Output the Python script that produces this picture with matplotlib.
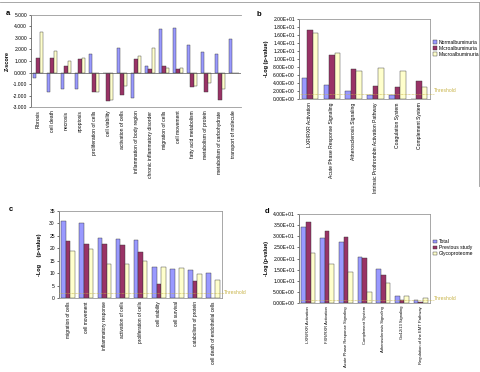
import matplotlib.pyplot as plt
import numpy as np

plt.rcParams['font.family'] = ['Liberation Sans', 'DejaVu Sans']

BLUE = '#9999ff'
RED = '#993366'
YEL = '#ffffcc'
THR = '#c8b448'

# panel a: z-scores
a_cats = ['Fibrosis', 'cell death', 'necrosis', 'apoptosis', 'proliferation of cells',
          'cell viability', 'activation of cells', 'inflammation of body region',
          'chronic inflammatory disorder', 'migration of cells', 'cell movement',
          'fatty acid metabolism', 'metabolism of protein', 'metabolism of carbohydrate',
          'transport of molecule']
a_normo = [-0.45, -1.65, -1.45, -1.45, 1.65, 0.0, 2.1, -2.2, 0.55, 3.75, 3.85, 2.35, 1.75, 1.6, 2.9]
a_micro = [1.3, 1.3, 0.55, 1.15, -1.65, -2.45, -1.95, 1.15, 0.35, 0.6, 0.35, -1.25, -1.7, -2.4, 0.0]
a_macro = [3.55, 1.9, 1.0, 1.3, -1.65, -2.35, -1.2, 1.4, 2.15, 0.4, 0.4, -1.2, -0.95, -1.4, 0.0]

# panel b: canonical pathways, -log(p)
b_cats = ['LXR/RXR Activation', 'Acute Phase Response Signaling', 'Atherosclerosis Signaling',
          'Intrinsic Prothrombin Activation Pathway', 'Coagulation System', 'Complement System']
b_normo = [5.2, 3.4, 1.9, 1.0, 0.9, 0.0]
b_micro = [17.3, 11.0, 7.5, 3.3, 3.0, 4.4]
b_macro = [16.5, 11.5, 7.0, 7.8, 7.0, 2.9]
b_names = ['Normalbuminuria', 'Microalbuminuria', 'Macroalbuminuria']

# panel c: functions, -log(p)
c_cats = ['migration of cells', 'cell movement', 'inflammatory response', 'activation of cells',
          'proliferation of cells', 'cell viability', 'cell survival', 'catabolism of protein',
          'cell death of endothelial cells']
c_s1 = [30.8, 30.0, 24.0, 23.8, 23.5, 12.4, 11.8, 11.1, 10.2]
c_s2 = [23.0, 21.7, 21.7, 21.4, 18.4, 5.6, 0.0, 6.8, 0.0]
c_s3 = [19.0, 19.5, 13.5, 13.5, 14.7, 12.4, 11.9, 9.7, 7.1]

# panel d: pathways by dataset
d_cats = ['LXR/RXR Activation', 'FXR/RXR Activation', 'Acute Phase Response Signaling',
          'Complement System', 'Atherosclerosis Signaling', 'G\u03b112/13 Signaling',
          'Regulation of the EMT Pathway']
d_total = [34.0, 29.0, 27.3, 20.8, 15.3, 3.4, 1.6]
d_prev = [36.2, 32.2, 29.6, 20.2, 12.8, 1.5, 0.5]
d_glyco = [22.5, 17.6, 14.1, 4.8, 9.1, 3.4, 2.5]
d_names = ['Total', 'Previous study', 'Glycoproteome']

FS = 3.6

fig = plt.figure(figsize=(4.8, 3.72), dpi=100)


def grouped(ax, cats, series, labels=None, fs=FS, pad=2.5):
    x = np.arange(len(cats))
    w = 0.25
    cols = [BLUE, RED, YEL]
    for i, s in enumerate(series):
        ax.bar(x + (i - 1) * w, s, w, color=cols[i], edgecolor='#333333',
               linewidth=0.3, label=labels[i] if labels else None, zorder=3)
    ax.set_xlim(-0.5, len(cats) - 0.5)
    ax.set_xticks(x)
    ax.set_xticklabels(cats, rotation=90, fontsize=fs)
    ax.tick_params(axis='x', length=0, pad=pad)
    ax.tick_params(axis='y', labelsize=FS, length=1.5, width=0.4, pad=1.5)
    for sp in ax.spines.values():
        sp.set_color('#999999')
        sp.set_linewidth(0.6)
    ax.spines['left'].set_color('#666666')


def threshold(ax, y, xt, yt):
    ax.plot([0, xt], [y, y], transform=ax.get_yaxis_transform(), color=THR,
            lw=0.5, ls=(0, (1, 1)), zorder=4, clip_on=False)
    ax.text(xt, yt, 'Threshold', transform=ax.transAxes, fontsize=FS, color=THR,
            va='center', ha='left')


def sci(vals):
    out = []
    for v in vals:
        if v == 0:
            out.append('0.00E+00')
        else:
            e = int(np.floor(np.log10(v)))
            out.append('%.2fE+%02d' % (v / 10 ** e, e))
    return out


# ---- a ----
ax = fig.add_axes([0.065, 0.712, 0.437, 0.248])
grouped(ax, a_cats, [a_normo, a_micro, a_macro])
ax.set_ylim(-3, 5)
ax.set_yticks(np.arange(-3, 5.1, 1))
ax.set_yticklabels(['%.3f' % v for v in np.arange(-3, 5.1, 1)])
ax.axhline(0, color='#555555', lw=0.5, zorder=4)
ax.spines['right'].set_visible(False)
ax.set_ylabel('Z-score', fontsize=4, fontweight='bold', labelpad=2)
fig.text(0.012, 0.965, 'a', fontsize=5.5, fontweight='bold', va='center')

# ---- b ----
ax = fig.add_axes([0.623, 0.734, 0.273, 0.215])
grouped(ax, b_cats, [b_normo, b_micro, b_macro], b_names)
ax.set_ylim(0, 20)
ax.set_yticks(np.arange(0, 20.1, 2))
ax.set_yticklabels(sci(np.arange(0, 20.1, 2)))
threshold(ax, 1.3, 1.03, 0.1)
ax.set_ylabel('-Log (p-value)', fontsize=4, fontweight='bold', labelpad=3)
ax.legend(loc='upper left', bbox_to_anchor=(1.0, 0.78), fontsize=FS, frameon=False,
          handlelength=0.8, handleheight=0.8, handletextpad=0.3, labelspacing=0.2,
          borderaxespad=0.2)
fig.text(0.535, 0.962, 'b', fontsize=5.5, fontweight='bold', va='center')

# ---- c ----
ax = fig.add_axes([0.123, 0.199, 0.340, 0.234])
grouped(ax, c_cats, [c_s1, c_s2, c_s3], fs=3.4)
ax.set_ylim(0, 35)
ax.set_yticks(np.arange(0, 36, 5))
threshold(ax, 2.0, 1.01, 0.06)
ax.set_ylabel('-Log     (p-value)', fontsize=4, fontweight='bold', labelpad=5)
fig.text(0.018, 0.438, 'c', fontsize=5.5, fontweight='bold', va='center')

# ---- d ----
ax = fig.add_axes([0.623, 0.185, 0.273, 0.240])
grouped(ax, d_cats, [d_total, d_prev, d_glyco], d_names, fs=3.0, pad=2)
ax.set_ylim(0, 40)
ax.set_yticks(np.arange(0, 40.1, 5))
ax.set_yticklabels(sci(np.arange(0, 40.1, 5)))
threshold(ax, 1.3, 1.03, 0.05)
ax.set_ylabel('-Log (p-value)', fontsize=3.8, fontweight='bold', labelpad=3)
ax.legend(loc='upper left', bbox_to_anchor=(1.0, 0.75), fontsize=FS, frameon=False,
          handlelength=0.8, handleheight=0.8, handletextpad=0.3, labelspacing=0.2,
          borderaxespad=0.2)
fig.text(0.552, 0.432, 'd', fontsize=5.5, fontweight='bold', va='center')

# outer frame lines of the top row
fig.add_artist(plt.Line2D([0, 1], [0.994, 0.994], color='#999999', lw=0.6))
fig.add_artist(plt.Line2D([0.997, 0.997], [0.994, 0.5], color='#999999', lw=0.6))

fig.savefig('out.png', dpi=100)
